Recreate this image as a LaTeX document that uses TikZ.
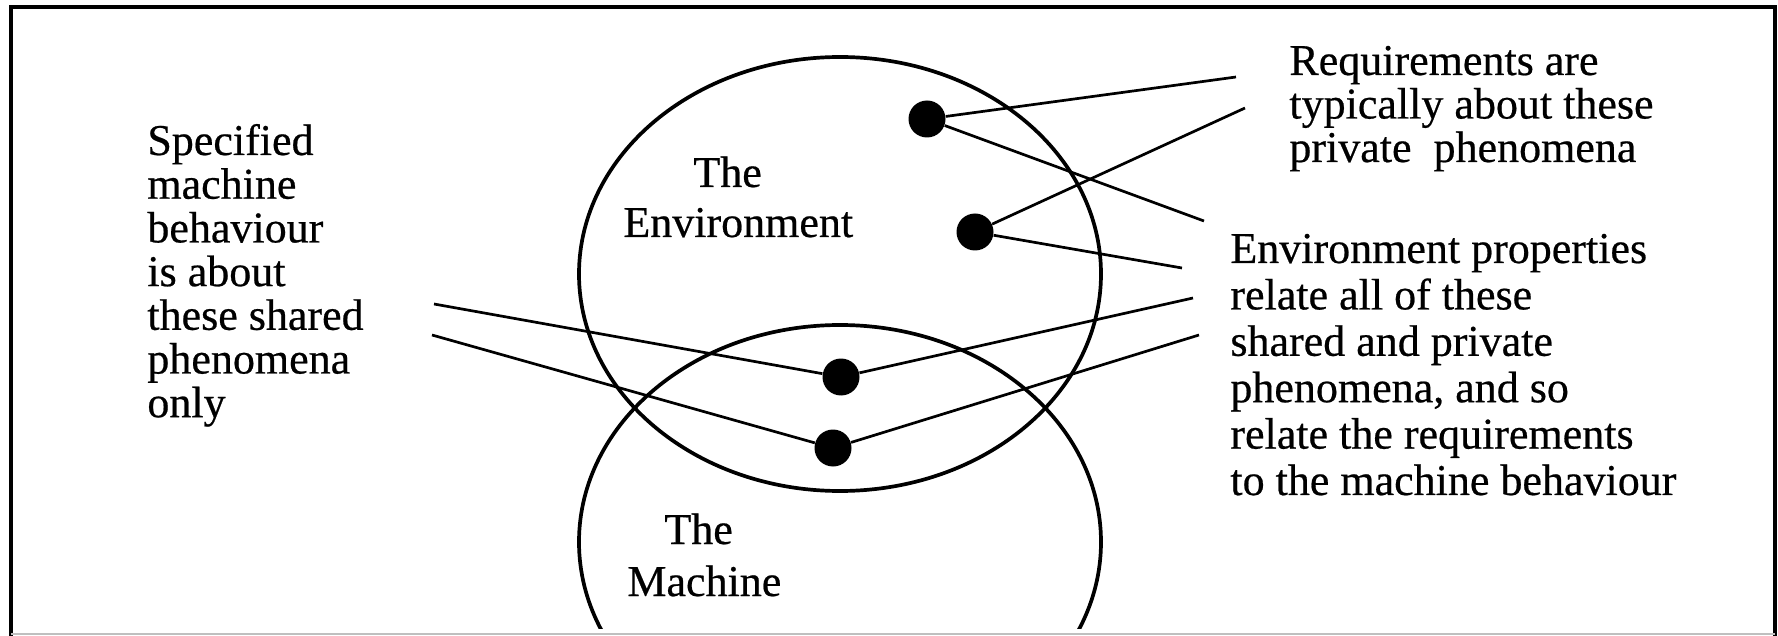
\documentclass[tikz,border=0pt]{standalone}
\usepackage{fontspec}
\setmainfont{Liberation Serif}[FakeBold=0.5]
\newfontfamily\scanfont{Liberation Serif}[FakeBold=0.5]
\tikzset{
  dot/.style={circle, fill=black, inner sep=0pt, minimum size=18.5pt},
  conn/.style={line width=1.35pt},
  ring/.style={line width=1.85pt},
  frame/.style={line width=2.2pt},
  lbl/.style={inner sep=0pt, anchor=base west},
}
\begin{document}
\begin{tikzpicture}[x=0.5pt, y=-0.5pt]
\useasboundingbox (0,0) rectangle (1778,636);
\fill[white] (0,0) rectangle (1778,636);
% frame
\draw[frame] (11,640) -- (11,7) -- (1775,7) -- (1775,640);
\draw[black!25, line width=0.6pt] (11,634) -- (1775,634);
% the two domains
\begin{scope}
  \clip (0,0) rectangle (1778,628);
  \draw[ring] (840,274) ellipse [x radius=130.5pt, y radius=108.5pt];
  \draw[ring] (840,542) ellipse [x radius=130.5pt, y radius=108.5pt];
\end{scope}
% phenomena
\node[dot] (d1) at (927,119) {};
\node[dot] (d2) at (975,232) {};
\node[dot] (d3) at (841,377) {};
\node[dot] (d4) at (833,448) {};
% free ends of the connectors
\coordinate (l1) at (434,304);
\coordinate (l2) at (432,335);
\coordinate (r1) at (1236,77);
\coordinate (r2) at (1204,221);
\coordinate (r3) at (1245,108);
\coordinate (r4) at (1182,268);
\coordinate (r5) at (1193,298);
\coordinate (r6) at (1199,335);
\draw[conn] (l1) -- (d3);
\draw[conn] (l2) -- (d4);
\draw[conn] (d1) -- (r1);
\draw[conn] (d1) -- (r2);
\draw[conn] (d2) -- (r3);
\draw[conn] (d2) -- (r4);
\draw[conn] (d3) -- (r5);
\draw[conn] (d4) -- (r6);
% labels
\node[lbl, font=\scanfont\fontsize{22}{21.85}\selectfont] (spec) at (147,155)
  {\parbox[t]{200pt}{\raggedright Specified\\machine\\behaviour\\is about\\these shared\\phenomena\\only}};
\node[lbl, font=\scanfont\fontsize{22}{21.75}\selectfont] (req) at (1289,75)
  {\parbox[t]{240pt}{\raggedright Requirements are\\typically about these\\private\ \ phenomena}};
\node[lbl, font=\scanfont\fontsize{22}{23.2}\selectfont] (prop) at (1230,263)
  {\parbox[t]{260pt}{\raggedright Environment properties\\relate all of these\\shared and private\\phenomena, and so\\relate the requirements\\to the machine behaviour}};
\node[lbl, font=\scanfont\fontsize{22}{25}\selectfont] (env) at (623,187)
  {\parbox[t]{150pt}{\raggedright\hspace*{35pt}The\\Environment}};
\node[lbl, font=\scanfont\fontsize{22}{26}\selectfont] (mach) at (627,544)
  {\parbox[t]{120pt}{\raggedright\hspace*{18.5pt}The\\Machine}};
\end{tikzpicture}
\end{document}
